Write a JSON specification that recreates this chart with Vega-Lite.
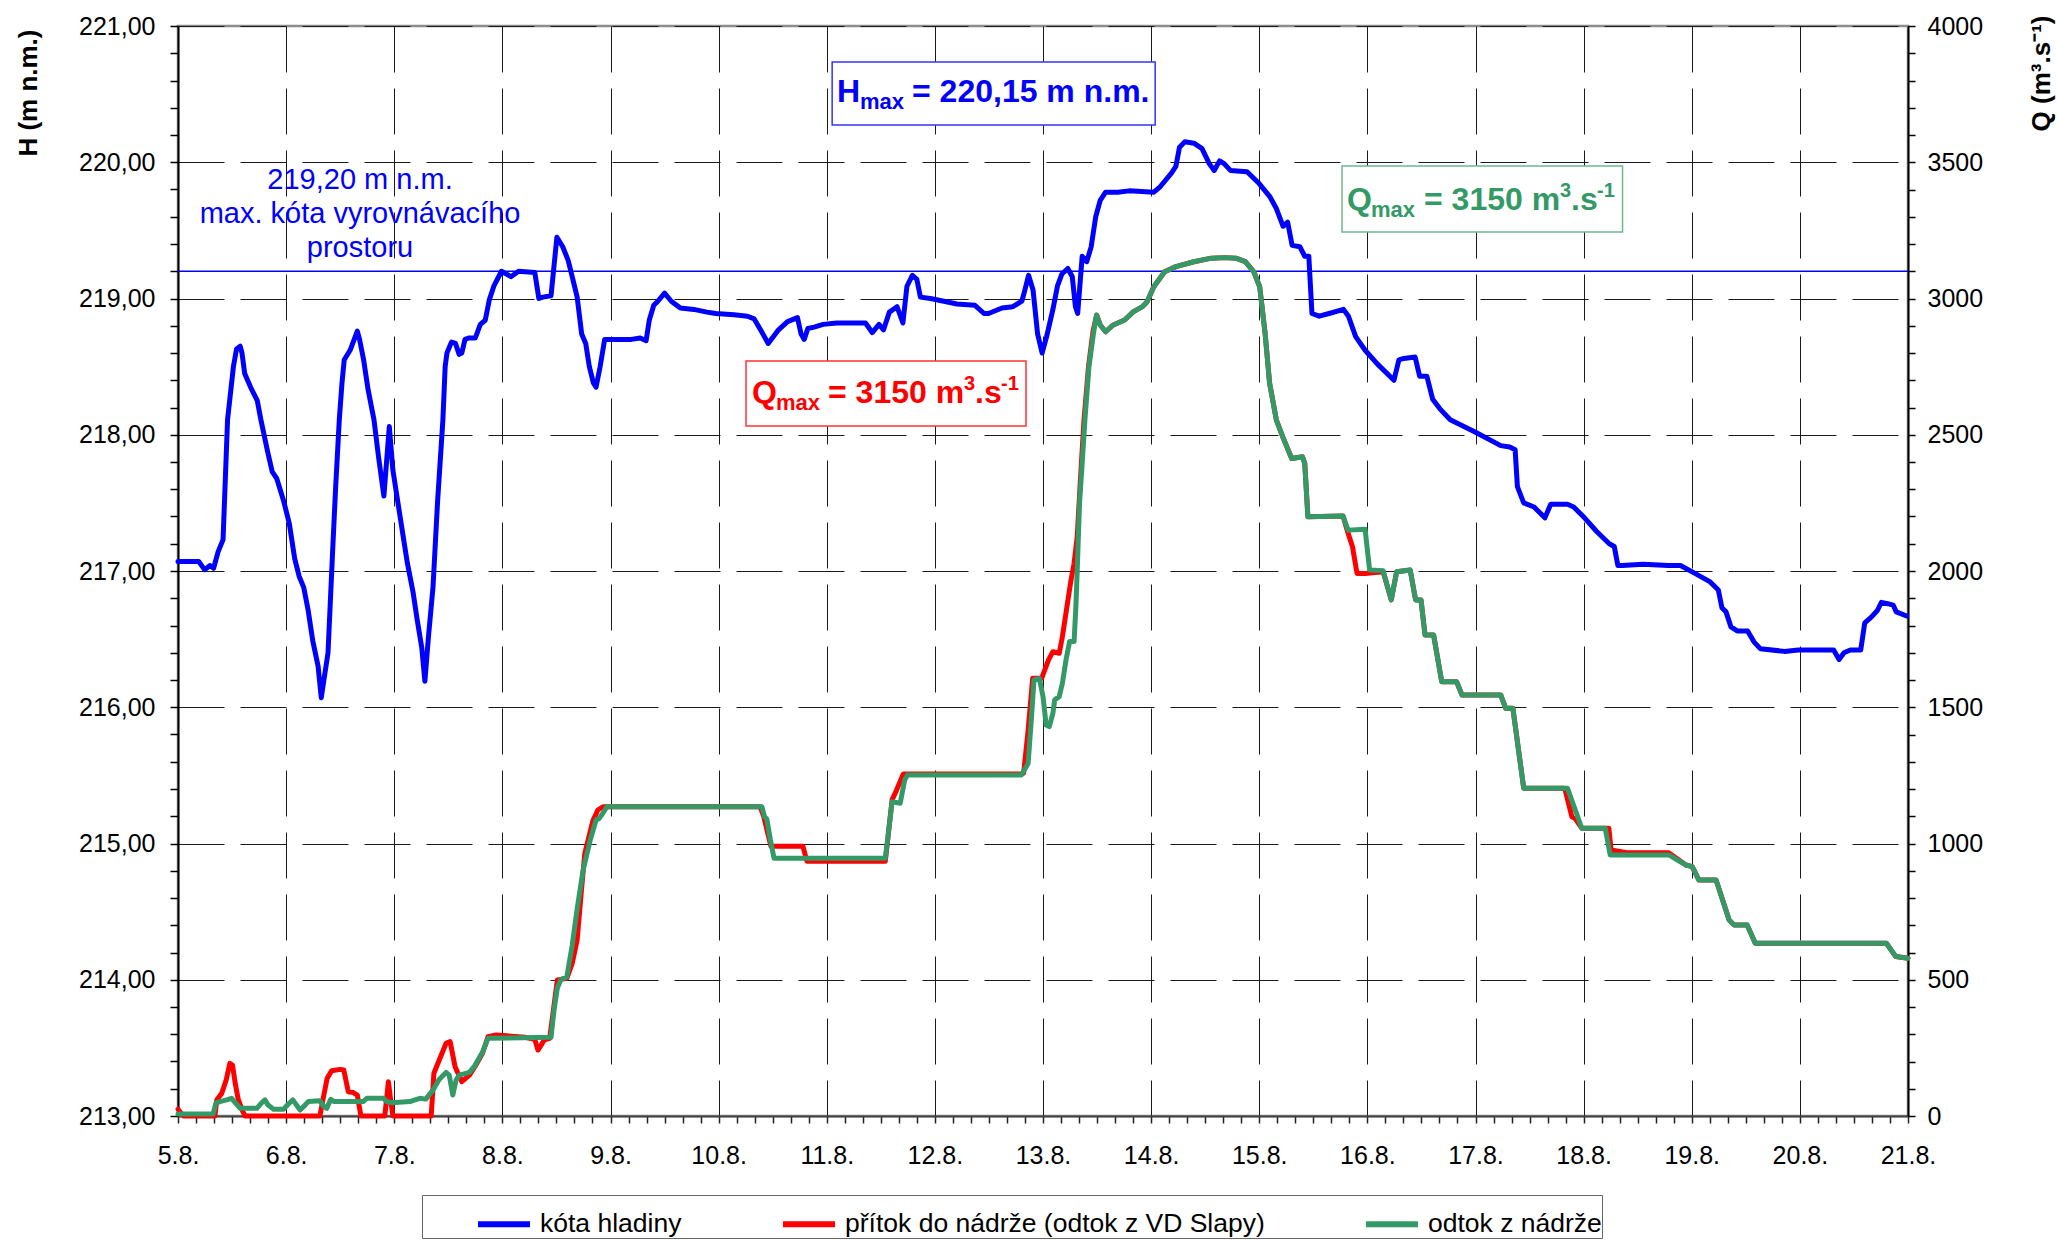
{
  "$schema": "https://vega.github.io/schema/vega-lite/v6.json",
  "width": 1730,
  "height": 1090,
  "autosize": {"type": "none"},
  "padding": {"left": 178, "top": 26, "right": 149, "bottom": 125},
  "background": "white",
  "config": {
    "font": "Liberation Sans",
    "view": {"stroke": "#8c8c8c", "strokeWidth": 2.5},
    "axis": {
      "labelFont": "Liberation Sans",
      "labelFontSize": 25,
      "labelColor": "black",
      "titleFont": "Liberation Sans",
      "titleFontSize": 26,
      "titleFontWeight": "bold",
      "titleColor": "black",
      "domainColor": "black",
      "domainWidth": 2,
      "tickColor": "black",
      "tickWidth": 1.5,
      "labelOverlap": false,
      "labelFlush": false,
      "labelBound": false
    }
  },
  "datasets": {
    "hladina": [
      {"t": 0, "H": 217.07}, {"t": 4.6, "H": 217.07}, {"t": 5.9, "H": 217.01}, {"t": 7.1, "H": 217.04},
      {"t": 7.9, "H": 217.02}, {"t": 8.9, "H": 217.14}, {"t": 10.0, "H": 217.23}, {"t": 11.0, "H": 218.11},
      {"t": 12.3, "H": 218.5}, {"t": 13.0, "H": 218.63}, {"t": 13.8, "H": 218.65}, {"t": 14.2, "H": 218.6},
      {"t": 14.8, "H": 218.45}, {"t": 16.1, "H": 218.35}, {"t": 17.6, "H": 218.25}, {"t": 18.4, "H": 218.11},
      {"t": 19.8, "H": 217.89}, {"t": 20.9, "H": 217.73}, {"t": 21.9, "H": 217.68}, {"t": 23.4, "H": 217.52},
      {"t": 24.7, "H": 217.35}, {"t": 25.9, "H": 217.09}, {"t": 26.9, "H": 216.96}, {"t": 27.9, "H": 216.88},
      {"t": 28.9, "H": 216.71}, {"t": 29.9, "H": 216.49}, {"t": 31.1, "H": 216.3}, {"t": 31.8, "H": 216.07},
      {"t": 33.3, "H": 216.4}, {"t": 34.3, "H": 217.13}, {"t": 35.0, "H": 217.62}, {"t": 35.8, "H": 218.11},
      {"t": 36.4, "H": 218.38}, {"t": 36.9, "H": 218.55}, {"t": 38.2, "H": 218.62}, {"t": 39.8, "H": 218.76},
      {"t": 40.3, "H": 218.7}, {"t": 41.2, "H": 218.55}, {"t": 42.2, "H": 218.33}, {"t": 43.5, "H": 218.11},
      {"t": 44.5, "H": 217.84}, {"t": 45.7, "H": 217.55}, {"t": 46.9, "H": 218.06}, {"t": 47.7, "H": 217.74},
      {"t": 49.2, "H": 217.42}, {"t": 50.9, "H": 217.06}, {"t": 52.2, "H": 216.84}, {"t": 53.1, "H": 216.64},
      {"t": 54.1, "H": 216.44}, {"t": 54.8, "H": 216.19}, {"t": 55.6, "H": 216.52}, {"t": 56.6, "H": 216.88},
      {"t": 57.6, "H": 217.5}, {"t": 58.8, "H": 218.11}, {"t": 59.3, "H": 218.5}, {"t": 59.7, "H": 218.6},
      {"t": 60.7, "H": 218.68}, {"t": 61.6, "H": 218.67}, {"t": 62.4, "H": 218.59}, {"t": 63.0, "H": 218.6},
      {"t": 63.7, "H": 218.7}, {"t": 64.5, "H": 218.71}, {"t": 66.0, "H": 218.71}, {"t": 67.1, "H": 218.81},
      {"t": 68.2, "H": 218.84}, {"t": 69.1, "H": 218.99}, {"t": 70.1, "H": 219.09}, {"t": 71.8, "H": 219.2},
      {"t": 73.9, "H": 219.16}, {"t": 75.6, "H": 219.2}, {"t": 79.2, "H": 219.19}, {"t": 80.1, "H": 219.0},
      {"t": 81.0, "H": 219.01}, {"t": 82.8, "H": 219.02}, {"t": 84.1, "H": 219.45}, {"t": 85.4, "H": 219.38},
      {"t": 86.6, "H": 219.28}, {"t": 87.5, "H": 219.16}, {"t": 88.6, "H": 219.01}, {"t": 89.6, "H": 218.74},
      {"t": 90.5, "H": 218.67}, {"t": 91.3, "H": 218.5}, {"t": 92.2, "H": 218.38}, {"t": 92.8, "H": 218.35},
      {"t": 93.7, "H": 218.5}, {"t": 94.7, "H": 218.7}, {"t": 96.6, "H": 218.7}, {"t": 100.6, "H": 218.7},
      {"t": 102.6, "H": 218.71}, {"t": 103.9, "H": 218.69}, {"t": 104.6, "H": 218.84}, {"t": 105.6, "H": 218.95},
      {"t": 106.5, "H": 218.98}, {"t": 108.0, "H": 219.04}, {"t": 109.5, "H": 218.98}, {"t": 111.5, "H": 218.93},
      {"t": 114.5, "H": 218.92}, {"t": 117.4, "H": 218.9}, {"t": 119.4, "H": 218.89}, {"t": 123.4, "H": 218.88},
      {"t": 126.4, "H": 218.87}, {"t": 127.9, "H": 218.85}, {"t": 129.3, "H": 218.77}, {"t": 131.0, "H": 218.67},
      {"t": 133.3, "H": 218.77}, {"t": 135.3, "H": 218.83}, {"t": 137.5, "H": 218.86}, {"t": 138.3, "H": 218.74},
      {"t": 139.0, "H": 218.7}, {"t": 139.8, "H": 218.78}, {"t": 141.2, "H": 218.79}, {"t": 143.2, "H": 218.81},
      {"t": 146.2, "H": 218.82}, {"t": 152.6, "H": 218.82}, {"t": 154.1, "H": 218.75}, {"t": 155.6, "H": 218.81},
      {"t": 156.6, "H": 218.77}, {"t": 157.9, "H": 218.9}, {"t": 159.6, "H": 218.94}, {"t": 160.9, "H": 218.82},
      {"t": 161.8, "H": 219.09}, {"t": 163.0, "H": 219.17}, {"t": 164.0, "H": 219.14}, {"t": 164.8, "H": 219.01},
      {"t": 167.0, "H": 219.0}, {"t": 170.0, "H": 218.98}, {"t": 172.9, "H": 218.96}, {"t": 176.9, "H": 218.95},
      {"t": 178.9, "H": 218.89}, {"t": 179.9, "H": 218.89}, {"t": 182.9, "H": 218.93}, {"t": 185.3, "H": 218.94},
      {"t": 187.3, "H": 218.98}, {"t": 187.8, "H": 219.04}, {"t": 188.8, "H": 219.17}, {"t": 189.8, "H": 219.06},
      {"t": 190.8, "H": 218.74}, {"t": 191.8, "H": 218.6}, {"t": 192.8, "H": 218.72}, {"t": 194.2, "H": 218.92},
      {"t": 195.2, "H": 219.09}, {"t": 196.2, "H": 219.18}, {"t": 197.5, "H": 219.22}, {"t": 198.5, "H": 219.16},
      {"t": 199.2, "H": 218.94}, {"t": 199.7, "H": 218.89}, {"t": 200.7, "H": 219.31}, {"t": 201.7, "H": 219.27},
      {"t": 202.7, "H": 219.38}, {"t": 203.7, "H": 219.6}, {"t": 204.7, "H": 219.72}, {"t": 205.9, "H": 219.78},
      {"t": 208.6, "H": 219.78}, {"t": 211.1, "H": 219.79}, {"t": 216.6, "H": 219.78}, {"t": 218.0, "H": 219.82},
      {"t": 220.5, "H": 219.92}, {"t": 221.5, "H": 219.97}, {"t": 222.3, "H": 220.11}, {"t": 223.5, "H": 220.15},
      {"t": 225.5, "H": 220.14}, {"t": 227.3, "H": 220.1}, {"t": 228.9, "H": 219.99}, {"t": 230.0, "H": 219.94},
      {"t": 231.2, "H": 220.01}, {"t": 232.2, "H": 219.99}, {"t": 233.6, "H": 219.94}, {"t": 237.3, "H": 219.93},
      {"t": 239.8, "H": 219.85}, {"t": 242.3, "H": 219.75}, {"t": 243.8, "H": 219.66}, {"t": 245.3, "H": 219.53},
      {"t": 246.3, "H": 219.56}, {"t": 247.3, "H": 219.39}, {"t": 249.0, "H": 219.38}, {"t": 250.1, "H": 219.31},
      {"t": 251.0, "H": 219.31}, {"t": 251.7, "H": 218.89}, {"t": 253.3, "H": 218.87}, {"t": 255.5, "H": 218.89},
      {"t": 258.7, "H": 218.92}, {"t": 259.8, "H": 218.87}, {"t": 261.4, "H": 218.72}, {"t": 263.5, "H": 218.62},
      {"t": 266.2, "H": 218.52}, {"t": 269.9, "H": 218.4}, {"t": 271.0, "H": 218.55}, {"t": 272.1, "H": 218.56},
      {"t": 274.6, "H": 218.57}, {"t": 275.6, "H": 218.43}, {"t": 277.2, "H": 218.43}, {"t": 278.5, "H": 218.26},
      {"t": 280.1, "H": 218.19}, {"t": 282.4, "H": 218.11}, {"t": 287.9, "H": 218.02}, {"t": 293.6, "H": 217.92},
      {"t": 295.6, "H": 217.91}, {"t": 296.8, "H": 217.89}, {"t": 297.3, "H": 217.62}, {"t": 298.7, "H": 217.5},
      {"t": 301.0, "H": 217.47}, {"t": 303.4, "H": 217.39}, {"t": 304.7, "H": 217.49}, {"t": 308.4, "H": 217.49},
      {"t": 309.8, "H": 217.47}, {"t": 312.2, "H": 217.39}, {"t": 314.9, "H": 217.29}, {"t": 317.7, "H": 217.2},
      {"t": 318.8, "H": 217.18}, {"t": 319.6, "H": 217.04}, {"t": 320.5, "H": 217.04}, {"t": 325.2, "H": 217.05},
      {"t": 330.8, "H": 217.04}, {"t": 333.5, "H": 217.04}, {"t": 336.3, "H": 216.99}, {"t": 340.1, "H": 216.92},
      {"t": 341.9, "H": 216.86}, {"t": 342.7, "H": 216.73}, {"t": 343.6, "H": 216.7}, {"t": 344.7, "H": 216.59},
      {"t": 346.1, "H": 216.56}, {"t": 348.4, "H": 216.56}, {"t": 349.8, "H": 216.48}, {"t": 351.2, "H": 216.43},
      {"t": 356.6, "H": 216.41}, {"t": 359.6, "H": 216.42}, {"t": 367.5, "H": 216.42}, {"t": 368.7, "H": 216.35},
      {"t": 369.8, "H": 216.4}, {"t": 371.2, "H": 216.42}, {"t": 373.5, "H": 216.42}, {"t": 374.4, "H": 216.62},
      {"t": 375.8, "H": 216.66}, {"t": 377.2, "H": 216.71}, {"t": 378.1, "H": 216.77}, {"t": 379.5, "H": 216.76},
      {"t": 380.7, "H": 216.75}, {"t": 381.4, "H": 216.7}, {"t": 383.7, "H": 216.67}
    ],
    "pritok": [
      {"t": 0, "Q": 25}, {"t": 0.8, "Q": 7}, {"t": 1.3, "Q": 0}, {"t": 8.2, "Q": 0}, {"t": 8.6, "Q": 59},
      {"t": 9.7, "Q": 83}, {"t": 10.7, "Q": 132}, {"t": 11.5, "Q": 193}, {"t": 12.1, "Q": 187}, {"t": 12.7, "Q": 120},
      {"t": 13.4, "Q": 59}, {"t": 14.4, "Q": 16}, {"t": 14.9, "Q": 0}, {"t": 31.5, "Q": 0}, {"t": 32.3, "Q": 71},
      {"t": 33.1, "Q": 138}, {"t": 34.1, "Q": 166}, {"t": 36.0, "Q": 171}, {"t": 36.8, "Q": 169}, {"t": 37.8, "Q": 89},
      {"t": 38.9, "Q": 86}, {"t": 39.8, "Q": 77}, {"t": 40.6, "Q": 0}, {"t": 45.9, "Q": 0}, {"t": 46.7, "Q": 126},
      {"t": 47.2, "Q": 59}, {"t": 47.7, "Q": 0}, {"t": 56.2, "Q": 0}, {"t": 56.8, "Q": 157}, {"t": 59.5, "Q": 267},
      {"t": 60.4, "Q": 273}, {"t": 61.5, "Q": 181}, {"t": 63.0, "Q": 126}, {"t": 64.7, "Q": 150}, {"t": 65.9, "Q": 181},
      {"t": 67.6, "Q": 230}, {"t": 68.8, "Q": 291}, {"t": 70.6, "Q": 297}, {"t": 77.0, "Q": 289}, {"t": 79.2, "Q": 281},
      {"t": 79.9, "Q": 242}, {"t": 80.6, "Q": 260}, {"t": 81.3, "Q": 279}, {"t": 82.5, "Q": 285}, {"t": 84.2, "Q": 499},
      {"t": 86.3, "Q": 505}, {"t": 87.5, "Q": 560}, {"t": 88.6, "Q": 646}, {"t": 89.5, "Q": 819}, {"t": 90.3, "Q": 964},
      {"t": 92.1, "Q": 1084}, {"t": 93.2, "Q": 1123}, {"t": 94.3, "Q": 1135}, {"t": 129.2, "Q": 1135}, {"t": 130.0, "Q": 1100},
      {"t": 131.6, "Q": 990}, {"t": 138.7, "Q": 990}, {"t": 139.6, "Q": 935}, {"t": 157.0, "Q": 935}, {"t": 158.5, "Q": 1160},
      {"t": 159.5, "Q": 1196}, {"t": 161.0, "Q": 1255}, {"t": 187.1, "Q": 1255}, {"t": 187.7, "Q": 1258}, {"t": 188.7, "Q": 1416},
      {"t": 189.7, "Q": 1606}, {"t": 191.7, "Q": 1606}, {"t": 193.2, "Q": 1673}, {"t": 194.2, "Q": 1704}, {"t": 195.6, "Q": 1698},
      {"t": 196.3, "Q": 1759}, {"t": 197.1, "Q": 1845}, {"t": 198.1, "Q": 1955}, {"t": 198.9, "Q": 2028}, {"t": 199.6, "Q": 2126},
      {"t": 200.3, "Q": 2334}, {"t": 201.1, "Q": 2554}, {"t": 202.1, "Q": 2750}, {"t": 203.1, "Q": 2880}, {"t": 203.9, "Q": 2939},
      {"t": 204.7, "Q": 2903}, {"t": 205.9, "Q": 2878}, {"t": 207.6, "Q": 2903}, {"t": 210.1, "Q": 2921}, {"t": 212.1, "Q": 2952},
      {"t": 214.1, "Q": 2970}, {"t": 215.1, "Q": 2988}, {"t": 216.6, "Q": 3043}, {"t": 219.0, "Q": 3098}, {"t": 221.5, "Q": 3117},
      {"t": 225.5, "Q": 3135}, {"t": 229.4, "Q": 3148}, {"t": 232.4, "Q": 3150}, {"t": 234.8, "Q": 3148}, {"t": 236.9, "Q": 3135},
      {"t": 238.8, "Q": 3098}, {"t": 240.1, "Q": 3043}, {"t": 241.3, "Q": 2872}, {"t": 242.3, "Q": 2689}, {"t": 243.8, "Q": 2554},
      {"t": 245.2, "Q": 2493}, {"t": 247.2, "Q": 2413}, {"t": 249.6, "Q": 2419}, {"t": 250.1, "Q": 2395}, {"t": 250.8, "Q": 2199},
      {"t": 258.6, "Q": 2202}, {"t": 259.5, "Q": 2150}, {"t": 260.7, "Q": 2089}, {"t": 261.7, "Q": 1991}, {"t": 263.5, "Q": 1991},
      {"t": 267.5, "Q": 1997}, {"t": 269.3, "Q": 1894}, {"t": 270.5, "Q": 1997}, {"t": 273.5, "Q": 2004}, {"t": 274.7, "Q": 1894},
      {"t": 275.9, "Q": 1894}, {"t": 276.8, "Q": 1765}, {"t": 278.7, "Q": 1765}, {"t": 280.5, "Q": 1594}, {"t": 283.8, "Q": 1594},
      {"t": 285.0, "Q": 1545}, {"t": 293.6, "Q": 1545}, {"t": 294.7, "Q": 1496}, {"t": 296.3, "Q": 1496}, {"t": 298.7, "Q": 1203},
      {"t": 307.8, "Q": 1203}, {"t": 309.4, "Q": 1098}, {"t": 310.1, "Q": 1092}, {"t": 311.6, "Q": 1056}, {"t": 317.6, "Q": 1056},
      {"t": 318.1, "Q": 976}, {"t": 321.6, "Q": 966}, {"t": 330.9, "Q": 966}, {"t": 334.7, "Q": 921}, {"t": 336.1, "Q": 915},
      {"t": 337.6, "Q": 866}, {"t": 341.4, "Q": 866}, {"t": 344.3, "Q": 719}, {"t": 345.4, "Q": 701}, {"t": 348.3, "Q": 701},
      {"t": 350.1, "Q": 634}, {"t": 379.2, "Q": 634}, {"t": 381.3, "Q": 585}, {"t": 384, "Q": 579}
    ],
    "odtok": [
      {"t": 0, "Q": 7}, {"t": 7.8, "Q": 7}, {"t": 8.4, "Q": 47}, {"t": 9.3, "Q": 53}, {"t": 10.8, "Q": 59},
      {"t": 11.9, "Q": 65}, {"t": 12.7, "Q": 49}, {"t": 13.8, "Q": 28}, {"t": 17.5, "Q": 28}, {"t": 18.6, "Q": 49},
      {"t": 19.3, "Q": 59}, {"t": 20.0, "Q": 40}, {"t": 21.2, "Q": 25}, {"t": 23.4, "Q": 25}, {"t": 24.5, "Q": 44},
      {"t": 25.5, "Q": 59}, {"t": 26.3, "Q": 40}, {"t": 27.1, "Q": 22}, {"t": 28.2, "Q": 40}, {"t": 28.9, "Q": 53},
      {"t": 31.5, "Q": 56}, {"t": 32.4, "Q": 34}, {"t": 33.0, "Q": 28}, {"t": 33.9, "Q": 61}, {"t": 34.6, "Q": 53},
      {"t": 41.1, "Q": 53}, {"t": 41.9, "Q": 65}, {"t": 45.6, "Q": 65}, {"t": 46.3, "Q": 53}, {"t": 47.4, "Q": 49},
      {"t": 51.5, "Q": 53}, {"t": 52.6, "Q": 59}, {"t": 53.7, "Q": 65}, {"t": 55.0, "Q": 62}, {"t": 56.6, "Q": 95},
      {"t": 58.0, "Q": 135}, {"t": 59.5, "Q": 160}, {"t": 60.2, "Q": 150}, {"t": 61.0, "Q": 77}, {"t": 61.7, "Q": 130},
      {"t": 62.4, "Q": 150}, {"t": 64.7, "Q": 160}, {"t": 65.9, "Q": 185}, {"t": 67.6, "Q": 235}, {"t": 68.8, "Q": 285},
      {"t": 82.8, "Q": 289}, {"t": 83.4, "Q": 380}, {"t": 84.2, "Q": 470}, {"t": 85.0, "Q": 501}, {"t": 86.3, "Q": 510},
      {"t": 87.5, "Q": 626}, {"t": 88.6, "Q": 760}, {"t": 89.9, "Q": 900}, {"t": 91.5, "Q": 1013}, {"t": 92.8, "Q": 1086},
      {"t": 93.5, "Q": 1092}, {"t": 94.3, "Q": 1111}, {"t": 95.2, "Q": 1135}, {"t": 129.6, "Q": 1135}, {"t": 130.2, "Q": 1098},
      {"t": 130.7, "Q": 1090}, {"t": 131.5, "Q": 1013}, {"t": 132.3, "Q": 946}, {"t": 157.0, "Q": 946}, {"t": 157.5, "Q": 1013},
      {"t": 158.5, "Q": 1153}, {"t": 160.3, "Q": 1148}, {"t": 161.3, "Q": 1233}, {"t": 161.9, "Q": 1251}, {"t": 187.2, "Q": 1251},
      {"t": 188.7, "Q": 1294}, {"t": 189.4, "Q": 1453}, {"t": 190.0, "Q": 1600}, {"t": 191.2, "Q": 1606}, {"t": 192.0, "Q": 1539},
      {"t": 192.7, "Q": 1435}, {"t": 193.4, "Q": 1429}, {"t": 194.2, "Q": 1478}, {"t": 194.6, "Q": 1527}, {"t": 195.6, "Q": 1539},
      {"t": 196.3, "Q": 1588}, {"t": 197.1, "Q": 1673}, {"t": 197.9, "Q": 1741}, {"t": 198.9, "Q": 1741}, {"t": 199.3, "Q": 1869},
      {"t": 199.6, "Q": 2004}, {"t": 200.1, "Q": 2248}, {"t": 200.6, "Q": 2371}, {"t": 201.3, "Q": 2554}, {"t": 202.2, "Q": 2750},
      {"t": 203.2, "Q": 2872}, {"t": 203.9, "Q": 2939}, {"t": 204.7, "Q": 2903}, {"t": 205.9, "Q": 2878}, {"t": 207.6, "Q": 2903},
      {"t": 210.1, "Q": 2921}, {"t": 212.1, "Q": 2952}, {"t": 214.1, "Q": 2970}, {"t": 215.1, "Q": 2988}, {"t": 216.6, "Q": 3043},
      {"t": 219.0, "Q": 3098}, {"t": 221.5, "Q": 3117}, {"t": 225.5, "Q": 3135}, {"t": 229.4, "Q": 3148}, {"t": 232.4, "Q": 3150},
      {"t": 234.8, "Q": 3148}, {"t": 236.9, "Q": 3135}, {"t": 238.8, "Q": 3098}, {"t": 240.1, "Q": 3043}, {"t": 241.3, "Q": 2872},
      {"t": 242.3, "Q": 2689}, {"t": 243.8, "Q": 2554}, {"t": 245.2, "Q": 2493}, {"t": 247.2, "Q": 2413}, {"t": 249.6, "Q": 2419},
      {"t": 250.1, "Q": 2395}, {"t": 250.8, "Q": 2199}, {"t": 258.6, "Q": 2202}, {"t": 259.7, "Q": 2150}, {"t": 263.5, "Q": 2153},
      {"t": 264.0, "Q": 2077}, {"t": 264.5, "Q": 2004}, {"t": 267.5, "Q": 2001}, {"t": 269.3, "Q": 1894}, {"t": 270.5, "Q": 1997},
      {"t": 273.5, "Q": 2004}, {"t": 274.7, "Q": 1894}, {"t": 275.9, "Q": 1894}, {"t": 276.8, "Q": 1765}, {"t": 278.7, "Q": 1765},
      {"t": 280.5, "Q": 1594}, {"t": 283.8, "Q": 1594}, {"t": 285.0, "Q": 1545}, {"t": 293.6, "Q": 1545}, {"t": 294.7, "Q": 1496},
      {"t": 296.3, "Q": 1496}, {"t": 298.7, "Q": 1203}, {"t": 308.4, "Q": 1203}, {"t": 311.6, "Q": 1056}, {"t": 316.8, "Q": 1056},
      {"t": 317.9, "Q": 958}, {"t": 330.9, "Q": 958}, {"t": 334.7, "Q": 921}, {"t": 336.1, "Q": 915}, {"t": 337.6, "Q": 866},
      {"t": 341.4, "Q": 866}, {"t": 344.3, "Q": 719}, {"t": 345.4, "Q": 701}, {"t": 348.3, "Q": 701}, {"t": 350.1, "Q": 634},
      {"t": 379.2, "Q": 634}, {"t": 381.3, "Q": 585}, {"t": 384, "Q": 579}
    ]
  },
  "layer": [
    {
      "layer": [
        {
          "data": {"values": [{}]},
          "mark": {"type": "rule", "color": "#0000ff", "strokeWidth": 1.4},
          "encoding": {"y": {"datum": 219.2}}
        },
        {
          "data": {"name": "hladina"},
          "mark": {"type": "line", "strokeWidth": 5, "strokeJoin": "round", "strokeCap": "round"},
          "encoding": {
            "x": {
              "field": "t",
              "type": "quantitative",
              "scale": {"domain": [0, 384], "nice": false, "zero": false},
              "axis": {
                "title": null,
                "tickCount": 500,
                "values": [0,4,8,12,16,20,24,28,32,36,40,44,48,52,56,60,64,68,72,76,80,84,88,92,96,100,104,108,112,116,120,124,128,132,136,140,144,148,152,156,160,164,168,172,176,180,184,188,192,196,200,204,208,212,216,220,224,228,232,236,240,244,248,252,256,260,264,268,272,276,280,284,288,292,296,300,304,308,312,316,320,324,328,332,336,340,344,348,352,356,360,364,368,372,376,380,384],
                "labelExpr": "datum.value % 24 == 0 ? (5 + datum.value / 24) + '.8.' : ''",
                "labelPadding": 20,
                "tickSize": 7,
                "tickColor": "#222222",
                "domainColor": "#444444",
                "grid": true,
                "gridColor": "#1a1a1a",
                "gridWidth": 1,
                "gridDash": [46, 16],
                "gridOpacity": {"condition": {"test": "datum.value % 24 != 0", "value": 0}, "value": 1}
              }
            },
            "y": {
              "field": "H",
              "type": "quantitative",
              "scale": {"domain": [213, 221], "nice": false, "zero": false},
              "axis": {
                "orient": "left",
                "tickCount": 500,
                "values": [213,213.2,213.4,213.6,213.8,214,214.2,214.4,214.6,214.8,215,215.2,215.4,215.6,215.8,216,216.2,216.4,216.6,216.8,217,217.2,217.4,217.6,217.8,218,218.2,218.4,218.6,218.8,219,219.2,219.4,219.6,219.8,220,220.2,220.4,220.6,220.8,221],
                "labelExpr": "abs(datum.value - round(datum.value)) < 0.01 ? replace(format(datum.value, '.2f'), '.', ',') : ''",
                "labelPadding": 15,
                "tickSize": 8,
                "grid": true,
                "gridColor": "#1a1a1a",
                "gridWidth": 1,
                "gridDash": [46, 16],
                "gridOpacity": {"condition": {"test": "abs(datum.value - round(datum.value)) > 0.01", "value": 0}, "value": 1},
                "title": "H (m n.m.)",
                "titleAngle": 270,
                "titleAlign": "right",
                "titleBaseline": "alphabetic",
                "titleX": -142,
                "titleY": 3
              }
            },
            "color": {
              "datum": "kóta hladiny",
              "scale": {
                "domain": ["kóta hladiny", "přítok do nádrže (odtok z VD Slapy)", "odtok z nádrže"],
                "range": ["#0000ff", "#ff0000", "#339966"]
              },
              "legend": {
                "orient": "none",
                "legendX": 244,
                "legendY": 1169,
                "direction": "horizontal",
                "columns": 3,
                "title": null,
                "symbolType": "stroke",
                "symbolSize": 2704,
                "symbolStrokeWidth": 6,
                "labelFont": "Liberation Sans",
                "labelFontSize": 26.5,
                "labelColor": "black",
                "labelLimit": 800,
                "labelOffset": 7,
                "columnPadding": 45,
                "padding": 0,
                "symbolOffset": 53,
                "strokeColor": "#666666",
                "fillColor": "white"
              }
            }
          }
        },
        {
          "data": {"values": [{}]},
          "mark": {
            "type": "text",
            "text": ["219,20 m n.m.", "max. kóta vyrovnávacího", "prostoru"],
            "font": "Liberation Sans",
            "fontSize": 29,
            "lineHeight": 34,
            "color": "#0000ff",
            "align": "center",
            "baseline": "middle"
          },
          "encoding": {"x": {"datum": 40.4}, "y": {"datum": 219.87}}
        },
        {
          "data": {"values": [{}]},
          "mark": {"type": "rect", "fill": "white", "stroke": "#3333ff", "strokeWidth": 1.5},
          "encoding": {
            "x": {"datum": 145.2}, "x2": {"datum": 216.9},
            "y": {"datum": 220.736}, "y2": {"datum": 220.273}
          }
        },
        {
          "data": {"values": [{}]},
          "encoding": {"x": {"datum": 146.28}, "y": {"datum": 220.442}},
          "layer": [
            {"mark": {"type": "text", "text": "H", "align": "left", "baseline": "alphabetic", "font": "Liberation Sans", "fontWeight": "bold", "fontSize": 32, "color": "#0000ff"}},
            {"mark": {"type": "text", "text": "max", "dx": 23, "dy": 7, "align": "left", "baseline": "alphabetic", "font": "Liberation Sans", "fontWeight": "bold", "fontSize": 22, "color": "#0000ff"}},
            {"mark": {"type": "text", "text": "= 220,15 m n.m.", "dx": 75, "align": "left", "baseline": "alphabetic", "font": "Liberation Sans", "fontWeight": "bold", "fontSize": 32, "color": "#0000ff"}}
          ]
        },
        {
          "data": {"values": [{}]},
          "mark": {"type": "rect", "fill": "white", "stroke": "#ff3333", "strokeWidth": 1.5},
          "encoding": {
            "x": {"datum": 126.08}, "x2": {"datum": 188.23},
            "y": {"datum": 218.541}, "y2": {"datum": 218.064}
          }
        },
        {
          "data": {"values": [{}]},
          "encoding": {"x": {"datum": 127.41}, "y": {"datum": 218.233}},
          "layer": [
            {"mark": {"type": "text", "text": "Q", "align": "left", "baseline": "alphabetic", "font": "Liberation Sans", "fontWeight": "bold", "fontSize": 32, "color": "#ff0000"}},
            {"mark": {"type": "text", "text": "max", "dx": 24, "dy": 7, "align": "left", "baseline": "alphabetic", "font": "Liberation Sans", "fontWeight": "bold", "fontSize": 22, "color": "#ff0000"}},
            {"mark": {"type": "text", "text": "= 3150 m", "dx": 76, "align": "left", "baseline": "alphabetic", "font": "Liberation Sans", "fontWeight": "bold", "fontSize": 32, "color": "#ff0000"}},
            {"mark": {"type": "text", "text": "3", "dx": 212, "dy": -13, "align": "left", "baseline": "alphabetic", "font": "Liberation Sans", "fontWeight": "bold", "fontSize": 20, "color": "#ff0000"}},
            {"mark": {"type": "text", "text": ".s", "dx": 223, "align": "left", "baseline": "alphabetic", "font": "Liberation Sans", "fontWeight": "bold", "fontSize": 32, "color": "#ff0000"}},
            {"mark": {"type": "text", "text": "-1", "dx": 249, "dy": -13, "align": "left", "baseline": "alphabetic", "font": "Liberation Sans", "fontWeight": "bold", "fontSize": 20, "color": "#ff0000"}}
          ]
        },
        {
          "data": {"values": [{}]},
          "mark": {"type": "rect", "fill": "white", "stroke": "#6cb890", "strokeWidth": 1.5},
          "encoding": {
            "x": {"datum": 258.37}, "x2": {"datum": 320.64},
            "y": {"datum": 219.972}, "y2": {"datum": 219.488}
          }
        },
        {
          "data": {"values": [{}]},
          "encoding": {"x": {"datum": 259.48}, "y": {"datum": 219.65}},
          "layer": [
            {"mark": {"type": "text", "text": "Q", "align": "left", "baseline": "alphabetic", "font": "Liberation Sans", "fontWeight": "bold", "fontSize": 32, "color": "#339966"}},
            {"mark": {"type": "text", "text": "max", "dx": 24, "dy": 7, "align": "left", "baseline": "alphabetic", "font": "Liberation Sans", "fontWeight": "bold", "fontSize": 22, "color": "#339966"}},
            {"mark": {"type": "text", "text": "= 3150 m", "dx": 77, "align": "left", "baseline": "alphabetic", "font": "Liberation Sans", "fontWeight": "bold", "fontSize": 32, "color": "#339966"}},
            {"mark": {"type": "text", "text": "3", "dx": 213, "dy": -13, "align": "left", "baseline": "alphabetic", "font": "Liberation Sans", "fontWeight": "bold", "fontSize": 20, "color": "#339966"}},
            {"mark": {"type": "text", "text": ".s", "dx": 224, "align": "left", "baseline": "alphabetic", "font": "Liberation Sans", "fontWeight": "bold", "fontSize": 32, "color": "#339966"}},
            {"mark": {"type": "text", "text": "-1", "dx": 250, "dy": -13, "align": "left", "baseline": "alphabetic", "font": "Liberation Sans", "fontWeight": "bold", "fontSize": 20, "color": "#339966"}}
          ]
        }
      ]
    },
    {
      "layer": [
        {
          "data": {"name": "pritok"},
          "mark": {"type": "line", "strokeWidth": 5, "strokeJoin": "round", "strokeCap": "round"},
          "encoding": {
            "x": {"field": "t", "type": "quantitative"},
            "y": {
              "field": "Q",
              "type": "quantitative",
              "scale": {"domain": [0, 4000], "nice": false},
              "axis": {
                "orient": "right",
                "tickCount": 500,
                "values": [0,100,200,300,400,500,600,700,800,900,1000,1100,1200,1300,1400,1500,1600,1700,1800,1900,2000,2100,2200,2300,2400,2500,2600,2700,2800,2900,3000,3100,3200,3300,3400,3500,3600,3700,3800,3900,4000],
                "labelExpr": "datum.value % 500 == 0 ? format(datum.value, 'd') : ''",
                "labelPadding": 12,
                "tickSize": 7,
                "grid": false,
                "title": "Q (m³.s⁻¹)",
                "titleAngle": 270,
                "titleAlign": "right",
                "titleBaseline": "alphabetic",
                "titleX": 141,
                "titleY": -11
              }
            },
            "color": {"datum": "přítok do nádrže (odtok z VD Slapy)"}
          }
        },
        {
          "data": {"name": "odtok"},
          "mark": {"type": "line", "strokeWidth": 5, "strokeJoin": "round", "strokeCap": "round"},
          "encoding": {
            "x": {"field": "t", "type": "quantitative"},
            "y": {"field": "Q", "type": "quantitative"},
            "color": {"datum": "odtok z nádrže"}
          }
        }
      ]
    }
  ],
  "resolve": {"scale": {"y": "independent"}}
}
